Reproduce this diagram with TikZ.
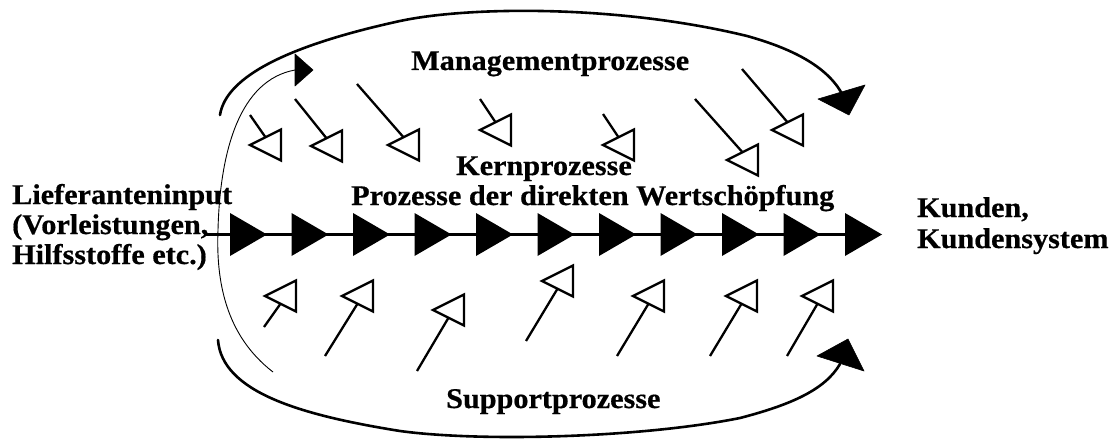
\documentclass[tikz,border=0pt]{standalone}
\usepackage{fontspec}
\setmainfont[FakeStretch=1.06,FakeBold=0.6]{Liberation Serif}
\usetikzlibrary{calc}
\begin{document}
\begin{tikzpicture}[x=1pt,y=-1pt,
  lbl/.style={font=\bfseries\fontsize{28.5}{30}\selectfont, inner sep=0pt, anchor=base west},
  bigcurve/.style={line width=2.6pt, line cap=round},
  thincurve/.style={line width=0.9pt},
  stem/.style={line width=2.3pt},
  opentri/.style={line width=2.3pt, line join=miter},
  headfill/.style={fill=black, draw=black, line width=0.6pt, line join=round},
  flowline/.style={line width=3pt}]
\useasboundingbox (0,0) rectangle (1112,444);

% labels
\node[lbl] (mgmt)   at (411,70)  {Managementprozesse};
\node[lbl] (kern)   at (456,175) {Kernprozesse};
\node[lbl] (direkt) at (351,205) {Prozesse der direkten Wertschöpfung};
\node[lbl] (lief1)  at (12,204)  {Lieferanteninput};
\node[lbl] (lief2)  at (12,234)  {(Vorleistungen,};
\node[lbl] (lief3)  at (12,264)  {Hilfsstoffe etc.)};
\node[lbl] (kund1)  at (917,217) {Kunden,};
\node[lbl] (kund2)  at (917,248) {Kundensystem};
\node[lbl] (supp)   at (446,408) {Supportprozesse};

% value chain: line with filled arrowheads
\coordinate (chainstart) at (205,234);
\coordinate (chainend) at (846,234);
\draw[flowline] (chainstart) -- (chainend);
\foreach \k in {0,...,10} {
  \coordinate (chev\k) at ({230+61.5*\k},234.5);
  \fill (chev\k) ++(0,-21.5) -- ++(37,21.5) -- ++(-37,21.5) -- cycle;
}

% management process arc (upper loop)
\coordinate (mstart) at (220,115);
\coordinate (mhead) at (841,92);
\draw[bigcurve] (mstart) .. controls (226,76) and (290,45) .. (400,21)
  .. controls (470,6) and (620,5) .. (747,36)
  .. controls (790,48) and (825,65) .. (mhead);
\filldraw[headfill] (818,99) -- (865,85) -- (849,115) -- cycle;

% support process arc (lower loop)
\coordinate (sstart) at (218,340);
\coordinate (shead) at (840,364);
\draw[bigcurve] (sstart) .. controls (222,392) and (300,415) .. (400,431)
  .. controls (480,442) and (640,438) .. (740,418)
  .. controls (790,405) and (825,390) .. (shead);
\filldraw[headfill] (817,356) -- (848,339) -- (864,371) -- cycle;

% thin feedback curve
\coordinate (fstart) at (273,372);
\coordinate (fhead) at (295,70);
\draw[thincurve] (fstart) .. controls (225,335) and (216,280) .. (218,230)
  .. controls (220,150) and (240,80) .. (fhead);
\filldraw[headfill] (295,54) -- (313,70) -- (295,86) -- cycle;

% management inputs (open triangles from above)
\foreach \i/\tx/\ty/\lx/\ly in {
  1/250/145/250/115, 2/311/146/295/99, 3/388/145/357/84, 4/480/130/480/99,
  5/603/145/603/114, 6/727/160/695/99, 7/772/130/742/69} {
  \coordinate (mt\i) at (\tx,\ty);
  \coordinate (ms\i) at (\lx,\ly);
  \draw[opentri] (mt\i) -- ++(31,-15.5) -- ++(0,31) -- cycle;
  \draw[stem] (ms\i) -- ($(mt\i)+(15.5,-7.75)$);
}

% support inputs (open triangles from below)
\foreach \i/\tx/\ty/\lx/\ly in {
  1/265/296/264/327, 2/342/296/325/356, 3/433/310/417/371, 4/542/281/526/341,
  5/633/296/617/356, 6/726/296/710/356, 7/802/296/787/356} {
  \coordinate (st\i) at (\tx,\ty);
  \coordinate (ss\i) at (\lx,\ly);
  \draw[opentri] (st\i) -- ++(31,-15.5) -- ++(0,31) -- cycle;
  \draw[stem] (ss\i) -- ($(st\i)+(15.5,7.75)$);
}
\end{tikzpicture}
\end{document}
